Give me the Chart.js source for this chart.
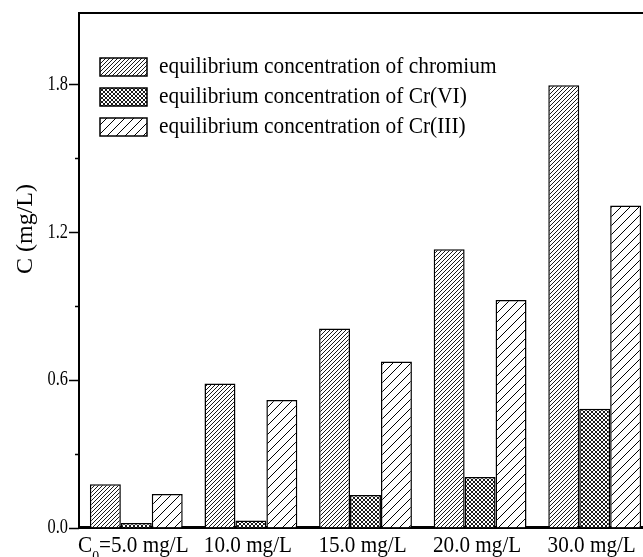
<!DOCTYPE html>
<html>
<head>
<meta charset="utf-8">
<script src="https://cdn.jsdelivr.net/npm/chart.js@4.4.1/dist/chart.umd.min.js"></script>
<style>
    html, body { margin: 0; padding: 0; background: #fff; overflow: hidden; }
    #wrap { width: 652px; height: 557px; }
</style>
</head>
<body>
<div id="wrap"><canvas id="chart" width="652" height="557"></canvas></div>
<script>
// initial concentrations (x categories)
const categories = ['5.0 mg/L', '10.0 mg/L', '15.0 mg/L', '20.0 mg/L', '30.0 mg/L'];
const seriesNames = [
    'equilibrium concentration of chromium',
    'equilibrium concentration of Cr(VI)',
    'equilibrium concentration of Cr(III)'
];
// equilibrium concentrations, mg/L
const totalCr = [0.176, 0.585, 0.808, 1.130, 1.797];
const crVI = [0.018, 0.028, 0.132, 0.205, 0.482];
const crIII = [0.136, 0.518, 0.674, 0.924, 1.308];

const yTickValues = [0, 0.3, 0.6, 0.9, 1.2, 1.5, 1.8];
const yTickLabels = ['0.0', '', '0.6', '', '1.2', '', '1.8'];
const yMax = 2.09;
const yTitle = 'C (mg/L)';

const FONT = '"Liberation Serif", "Times New Roman", serif';

function hatch(step, cross, lw) {
    const c = document.createElement('canvas');
    c.width = c.height = step;
    const g = c.getContext('2d');
    g.fillStyle = '#fff';
    g.fillRect(0, 0, step, step);
    g.strokeStyle = '#000';
    g.lineWidth = lw;
    g.beginPath();
    g.moveTo(-1, step + 1); g.lineTo(step + 1, -1);
    g.moveTo(-1, 1); g.lineTo(1, -1);
    g.moveTo(step - 1, step + 1); g.lineTo(step + 1, step - 1);
    if (cross) {
        g.moveTo(-1, -1); g.lineTo(step + 1, step + 1);
        g.moveTo(step - 1, -1); g.lineTo(step + 1, 1);
        g.moveTo(-1, step - 1); g.lineTo(1, step + 1);
    }
    g.stroke();
    return g.createPattern(c, 'repeat');
}

const fills = [hatch(4, false, 0.9), hatch(4, true, 0.9), hatch(9, false, 1)];

// text helper, squeezes glyphs horizontally
function drawText(ctx, text, x, y, size, sx, align) {
    ctx.save();
    ctx.font = size + 'px ' + FONT;
    ctx.fillStyle = '#000';
    ctx.textBaseline = 'middle';
    ctx.textAlign = align;
    ctx.translate(x, y);
    ctx.scale(sx, 1);
    ctx.fillText(text, 0, 0);
    ctx.restore();
}

const decorations = {
    id: 'decorations',
    afterDraw(chart) {
        const ctx = chart.ctx;
        const area = chart.chartArea;
        const xs = chart.scales.x;
        const ys = chart.scales.y;

        ctx.save();
        ctx.strokeStyle = '#000';
        // top frame line
        ctx.lineWidth = 2;
        ctx.beginPath();
        ctx.moveTo(area.left - 1, area.top);
        ctx.lineTo(area.right, area.top);
        ctx.stroke();
        // y tick marks, labelled ones longer
        ctx.lineWidth = 1.5;
        ctx.beginPath();
        ys.ticks.forEach((t, i) => {
            const py = Math.round(ys.getPixelForValue(t.value)) + 0.5;
            const len = yTickLabels[i] ? 10 : 4;
            ctx.moveTo(area.left - len, py);
            ctx.lineTo(area.left, py);
        });
        ctx.stroke();
        ctx.restore();

        // y tick labels
        ys.ticks.forEach((t, i) => {
            if (!yTickLabels[i]) return;
            drawText(ctx, yTickLabels[i], area.left - 11, ys.getPixelForValue(t.value), 21, 0.78, 'right');
        });

        // x labels, first one carries C0=
        categories.forEach((lab, i) => {
            const cx = xs.getPixelForTick(i) - 3;
            const y = 546;
            const sx = 0.92;
            ctx.save();
            ctx.fillStyle = '#000';
            ctx.textBaseline = 'middle';
            ctx.textAlign = 'left';
            ctx.font = '23px ' + FONT;
            if (i === 0) {
                const pre = 'C';
                const post = '=' + lab;
                const wPre = ctx.measureText(pre).width * sx;
                const wPost = ctx.measureText(post).width * sx;
                ctx.font = '15px ' + FONT;
                const wSub = ctx.measureText('0').width * sx;
                let x = cx - (wPre + wSub + wPost) / 2;
                ctx.font = '23px ' + FONT;
                drawText(ctx, pre, x, y, 23, sx, 'left');
                x += wPre;
                drawText(ctx, '0', x, y + 11, 15, sx, 'left');
                x += wSub;
                drawText(ctx, post, x, y, 23, sx, 'left');
            } else {
                drawText(ctx, lab, cx, y, 23, sx, 'center');
            }
            ctx.restore();
        });

        // y axis title
        ctx.save();
        ctx.translate(26, 229);
        ctx.rotate(-Math.PI / 2);
        ctx.font = '24px ' + FONT;
        ctx.fillStyle = '#000';
        ctx.textAlign = 'center';
        ctx.textBaseline = 'middle';
        ctx.fillText(yTitle, 0, 0);
        ctx.restore();

        // legend
        const rows = [67, 97, 127];
        seriesNames.forEach((name, i) => {
            ctx.save();
            ctx.fillStyle = fills[i];
            ctx.fillRect(100, rows[i] - 9, 47, 18);
            ctx.strokeStyle = '#000';
            ctx.lineWidth = 1.5;
            ctx.strokeRect(100, rows[i] - 9, 47, 18);
            ctx.restore();
            drawText(ctx, name, 159, rows[i], 24, 0.89, 'left');
        });
    }
};

const chart = new Chart(document.getElementById('chart').getContext('2d'), {
    type: 'bar',
    data: {
        labels: categories,
        datasets: [totalCr, crVI, crIII].map((vals, i) => ({
            label: seriesNames[i],
            data: vals,
            backgroundColor: fills[i],
            borderColor: '#000',
            borderWidth: 1.5,
            borderSkipped: 'bottom',
            categoryPercentage: 0.81,
            barPercentage: 1.0
        }))
    },
    options: {
        responsive: false,
        animation: false,
        events: [],
        layout: { padding: { top: 13, left: 0, right: 0, bottom: 0 } },
        plugins: {
            legend: { display: false },
            tooltip: { enabled: false }
        },
        scales: {
            x: {
                grid: { display: false },
                border: { display: true, color: '#000', width: 3 },
                ticks: { display: false },
                afterFit: s => { s.height = 29.5; }
            },
            y: {
                min: 0,
                max: yMax,
                grid: { display: false },
                border: { display: true, color: '#000', width: 2 },
                ticks: { display: false },
                afterBuildTicks: s => { s.ticks = yTickValues.map(v => ({ value: v })); },
                afterFit: s => { s.width = 79; }
            }
        }
    },
    plugins: [decorations]
});
</script>
</body>
</html>
